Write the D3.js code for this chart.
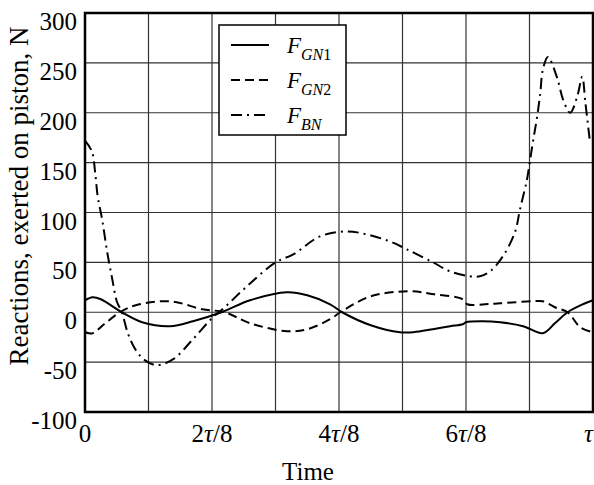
<!DOCTYPE html>
<html>
<head>
<meta charset="utf-8">
<script src="https://cdn.jsdelivr.net/npm/d3@7"></script>
<style>
  body { margin: 0; background: #fff; }
  svg { display: block; font-family: 'Liberation Serif', 'Times New Roman', serif; }
</style>
</head>
<body>
<div id="chart"></div>
<script>
// time in units of tau/8, values in N
const timeGN1 = [0, 0.12, 0.25, 0.58, 0.9, 1.34, 1.7, 2.15, 2.6, 3.18, 3.5, 3.86, 4.05, 4.5, 4.96, 5.17, 5.48, 5.75, 5.95, 6.0, 6.25, 6.54, 6.9, 7.21, 7.4, 7.6, 7.84, 8]
const valuesGN1 = [12, 15, 13, 0, -10, -14, -9, 0, 12, 20, 17, 8, 0, -13, -20, -20, -17, -14, -12, -10, -9, -10, -14, -21, -11, 0, 8, 12]

const timeGN2 = [0, 0.12, 0.3, 0.55, 0.8, 1.34, 1.85, 2.2, 2.6, 3.18, 3.5, 3.86, 4.02, 4.5, 5.12, 5.5, 5.95, 6.02, 6.3, 6.54, 7.05, 7.21, 7.4, 7.6, 7.8, 8]
const valuesGN2 = [-20, -21, -12, 0, 7, 11, 3, 0, -11, -19, -17, -7, 0, 16, 21, 18, 13, 8, 8, 9, 11, 11, 5, 0, -15, -20]

const timeBN = [0, 0.11, 0.16, 0.2, 0.27, 0.35, 0.43, 0.5, 0.58, 0.68, 0.8, 0.94, 1.13, 1.39, 1.7, 2.0, 2.2, 2.55, 3.0, 3.28, 3.7, 4.12, 4.44, 4.8, 5.07, 5.48, 5.75, 6.06, 6.22, 6.38, 6.58, 6.77, 6.85, 6.96, 7.01, 7.06, 7.12, 7.17, 7.21, 7.29, 7.43, 7.53, 7.64, 7.75, 7.83, 7.88, 7.95]
const valuesBN = [172, 161, 140, 116, 93, 60, 33, 11, 0, -22, -38, -48, -53, -47, -27, -6, 5, 26, 50, 58, 76, 81, 78, 71, 63, 50, 41, 36, 36, 41, 56, 80, 103, 133, 153, 173, 196, 220, 243, 256, 236, 213, 200, 216, 236, 210, 172]

const xTicks = [0, 2, 4, 6, 8]
const xTickLabels = [['0'], ['2', 'τ', '/8'], ['4', 'τ', '/8'], ['6', 'τ', '/8'], ['', 'τ', '']]
const yTicks = [-100, -50, 0, 50, 100, 150, 200, 250, 300]

const seriesNames = [['F', 'GN', '1'], ['F', 'GN', '2'], ['F', 'BN', '']]
const dashes = [null, '9,5', '11,5,2,5']

const w = 594
const h = 485
const margin = { top: 13, right: 1, bottom: 73, left: 85 }

const svg = d3.select('#chart').append('svg')
  .attr('width', w)
  .attr('height', h)

const x = d3.scaleLinear().domain([0, 8]).range([margin.left, w - margin.right])
const y = d3.scaleLinear().domain([-100, 300]).range([h - margin.bottom, margin.top])

// grid
svg.append('g').selectAll('line')
  .data(d3.range(1, 8))
  .enter().append('line')
    .attr('x1', d => x(d)).attr('x2', d => x(d))
    .attr('y1', y(-100)).attr('y2', y(300))
    .attr('stroke', '#333').attr('stroke-width', 1.2)

svg.append('g').selectAll('line')
  .data(yTicks.slice(1, -1))
  .enter().append('line')
    .attr('x1', x(0)).attr('x2', x(8))
    .attr('y1', d => y(d)).attr('y2', d => y(d))
    .attr('stroke', '#333').attr('stroke-width', 1.2)

// curves
const line = d3.line().curve(d3.curveCatmullRom)
const series = [
  d3.zip(timeGN1, valuesGN1),
  d3.zip(timeGN2, valuesGN2),
  d3.zip(timeBN, valuesBN)
]

series.forEach((s, i) => {
  svg.append('path')
    .attr('d', line(s.map(p => [x(p[0]), y(p[1])])))
    .attr('fill', 'none')
    .attr('stroke', '#000')
    .attr('stroke-width', 2)
    .attr('stroke-dasharray', dashes[i])
})

// frame
svg.append('rect')
  .attr('x', x(0)).attr('y', y(300))
  .attr('width', x(8) - x(0)).attr('height', y(-100) - y(300))
  .attr('fill', 'none').attr('stroke', '#000').attr('stroke-width', 2.5)

// y tick labels
svg.append('g').selectAll('text')
  .data(yTicks)
  .enter().append('text')
    .attr('x', 77)
    .attr('y', d => y(d) + 17)
    .attr('text-anchor', 'end')
    .attr('font-size', 25)
    .text(d => d)

// x tick labels
const xl = svg.append('g').selectAll('text')
  .data(xTicks)
  .enter().append('text')
    .attr('x', (d, i) => i === xTicks.length - 1 ? w - 1 : x(d))
    .attr('y', 442)
    .attr('text-anchor', (d, i) => i === xTicks.length - 1 ? 'end' : 'middle')
    .attr('font-size', 25)

xl.each(function (d, i) {
  const parts = xTickLabels[i]
  const t = d3.select(this)
  parts.forEach((p, j) => {
    if (p === '') return
    t.append('tspan').attr('font-style', j === 1 ? 'italic' : 'normal').text(p)
  })
})

// axis titles
svg.append('text')
  .attr('x', 308).attr('y', 480)
  .attr('text-anchor', 'middle')
  .attr('font-size', 25)
  .text('Time')

svg.append('text')
  .attr('transform', 'translate(28,196) rotate(-90)')
  .attr('text-anchor', 'middle')
  .attr('font-size', 27)
  .text('Reactions, exerted on piston, N')

// legend
const lg = svg.append('g')
lg.append('rect')
  .attr('x', 219).attr('y', 25)
  .attr('width', 127).attr('height', 110)
  .attr('fill', '#fff').attr('stroke', '#000').attr('stroke-width', 1.5)

seriesNames.forEach((n, i) => {
  const ly = 45 + i * 35
  lg.append('line')
    .attr('x1', 231).attr('x2', 269)
    .attr('y1', ly).attr('y2', ly)
    .attr('stroke', '#000').attr('stroke-width', 2)
    .attr('stroke-dasharray', dashes[i])
  const t = lg.append('text')
    .attr('x', 287).attr('y', ly + 8)
    .attr('font-size', 23)
  t.append('tspan').attr('font-style', 'italic').text(n[0])
  t.append('tspan').attr('font-style', 'italic').attr('font-size', 16).attr('dy', 7).text(n[1])
  if (n[2]) t.append('tspan').attr('font-size', 16).text(n[2])
})
</script>
</body>
</html>
